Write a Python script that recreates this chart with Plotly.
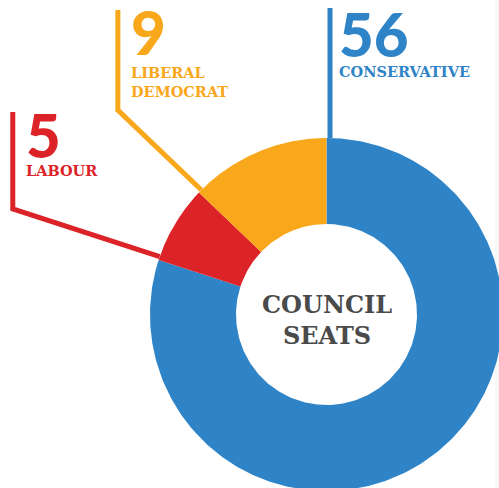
import numpy as np
import plotly.graph_objects as go

# ---- data ----
parties = ["CONSERVATIVE", "LABOUR", "LIBERAL<br>DEMOCRAT"]
seats = [56, 5, 9]
colors = ["#2f84c7", "#dc2428", "#f9a71b"]
center_title = "COUNCIL<br>SEATS"

# ---- layout (pixel-like axis units, y downwards) ----
W, H = 499, 488
CX, CY = 326.5, 314.5
R_OUT, R_IN = 176.5, 90.5
knee_r = [176.5, 331, 292]     # where each leader turns vertical
top_y = [8, 112, 10]           # top end of each leader
text_x = [337.5, 24.5, 129.5]  # left edge of the number / label boxes
num_mid = [34, 135, 32]        # vertical middle of the big numbers
lab_top = [66, 165, 67]        # glyph top of the party labels
OFF = 3.5                      # leader offset into its wedge

NUM_FONT = dict(family="Lato", size=60, weight=900)
LAB_FONT = dict(family="DejaVu Serif", size=14.5, weight="bold")

fig = go.Figure()
total = sum(seats)
cum = 0
for i, (name, v, c) in enumerate(zip(parties, seats, colors)):
    a0 = cum / total * 2 * np.pi
    a1 = (cum + v) / total * 2 * np.pi
    cum += v
    t = np.linspace(a0, a1, 300)
    xs = np.concatenate([CX + R_OUT * np.sin(t), CX + R_IN * np.sin(t[::-1])])
    ys = np.concatenate([CY - R_OUT * np.cos(t), CY - R_IN * np.cos(t[::-1])])
    fig.add_trace(go.Scatter(x=xs, y=ys, fill="toself", fillcolor=c,
                             mode="lines", line=dict(width=0, color=c),
                             hoverinfo="skip"))
    s, co = np.sin(a0), np.cos(a0)
    kr = knee_r[i]
    p0 = (CX + R_OUT * s + OFF * co, CY - R_OUT * co + OFF * s)
    pk = (CX + kr * s + OFF * co, CY - kr * co + OFF * s)
    p2 = (pk[0], top_y[i])
    fig.add_trace(go.Scatter(x=[p0[0], pk[0], p2[0]], y=[p0[1], pk[1], p2[1]],
                             mode="lines", line=dict(width=5, color=c),
                             hoverinfo="skip"))
    fig.add_annotation(x=text_x[i] / W, y=1 - num_mid[i] / H,
                       xref="paper", yref="paper", text=str(v), showarrow=False,
                       xanchor="left", yanchor="middle", borderpad=0,
                       font=dict(color=c, **NUM_FONT))
    fig.add_annotation(x=text_x[i] / W, y=1 - (lab_top[i] - 4) / H,
                       xref="paper", yref="paper", text=name, showarrow=False,
                       xanchor="left", yanchor="top", align="left", borderpad=0,
                       font=dict(color=c, **LAB_FONT))

fig.add_annotation(x=CX, y=CY + 5, text=center_title, showarrow=False,
                   xanchor="center", yanchor="middle", align="center",
                   font=dict(family="DejaVu Serif", size=24, weight="bold",
                             color="#4a4a4a"))

fig.add_shape(type="rect", x0=495, x1=W, y0=0, y1=H, layer="below",
              fillcolor="#f7f7f7", line=dict(width=0))

fig.update_xaxes(range=[0, W], visible=False)
fig.update_yaxes(range=[H, 0], visible=False)
fig.update_layout(width=W, height=H, margin=dict(l=0, r=0, t=0, b=0),
                  paper_bgcolor="white", plot_bgcolor="white",
                  showlegend=False)
fig.write_html("out.html", config={"displayModeBar": False},
               post_script="document.body.style.margin='0';")
